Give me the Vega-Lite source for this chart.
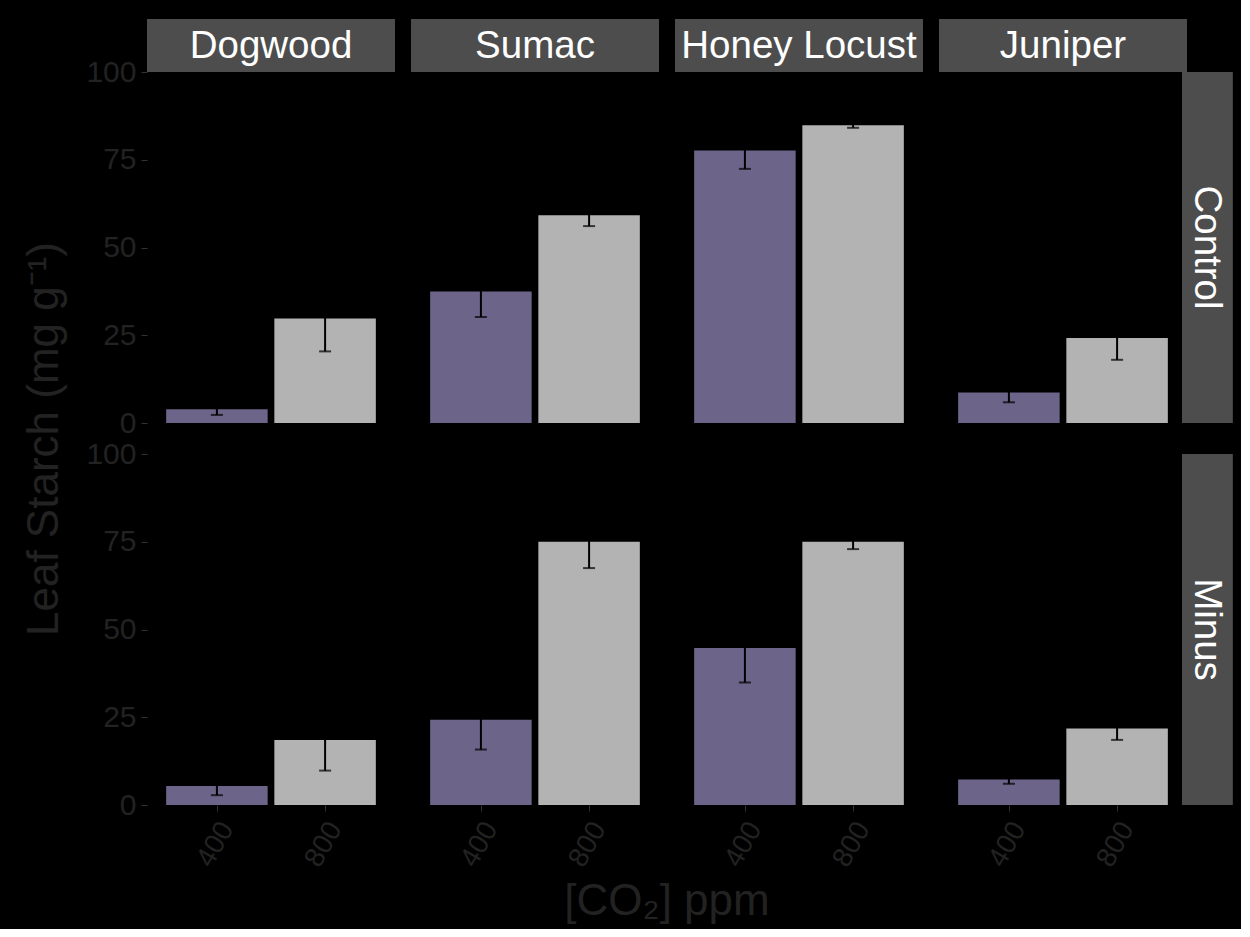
{
  "$schema": "https://vega.github.io/schema/vega-lite/v6.json",
  "background": "black",
  "padding": {"left": 22, "top": 18, "right": 8, "bottom": 5},
  "autosize": {"type": "pad"},
  "bounds": "flush",
  "data": {"values": [
    {"treatment": "Control", "species": "Dogwood", "co2": 400, "mean": 3.9, "lo": 2.3, "hi": 5.5},
    {"treatment": "Control", "species": "Dogwood", "co2": 800, "mean": 29.8, "lo": 20.4, "hi": 39.2},
    {"treatment": "Control", "species": "Sumac", "co2": 400, "mean": 37.5, "lo": 30.2, "hi": 44.8},
    {"treatment": "Control", "species": "Sumac", "co2": 800, "mean": 59.2, "lo": 56.1, "hi": 62.3},
    {"treatment": "Control", "species": "Honey Locust", "co2": 400, "mean": 77.6, "lo": 72.4, "hi": 82.8},
    {"treatment": "Control", "species": "Honey Locust", "co2": 800, "mean": 84.8, "lo": 84.1, "hi": 85.5},
    {"treatment": "Control", "species": "Juniper", "co2": 400, "mean": 8.7, "lo": 5.9, "hi": 11.5},
    {"treatment": "Control", "species": "Juniper", "co2": 800, "mean": 24.2, "lo": 18.0, "hi": 30.4},
    {"treatment": "Minus", "species": "Dogwood", "co2": 400, "mean": 5.4, "lo": 2.8, "hi": 8.0},
    {"treatment": "Minus", "species": "Dogwood", "co2": 800, "mean": 18.5, "lo": 9.8, "hi": 27.2},
    {"treatment": "Minus", "species": "Sumac", "co2": 400, "mean": 24.3, "lo": 15.8, "hi": 32.8},
    {"treatment": "Minus", "species": "Sumac", "co2": 800, "mean": 75.0, "lo": 67.5, "hi": 82.5},
    {"treatment": "Minus", "species": "Honey Locust", "co2": 400, "mean": 44.7, "lo": 34.9, "hi": 54.5},
    {"treatment": "Minus", "species": "Honey Locust", "co2": 800, "mean": 75.0, "lo": 72.9, "hi": 77.1},
    {"treatment": "Minus", "species": "Juniper", "co2": 400, "mean": 7.3, "lo": 6.05, "hi": 8.55},
    {"treatment": "Minus", "species": "Juniper", "co2": 800, "mean": 21.8, "lo": 18.55, "hi": 25.05}
  ]},
  "facet": {
    "row": {
      "field": "treatment", "type": "nominal", "sort": ["Control", "Minus"],
      "title": "Leaf Starch (mg g⁻¹)",
      "header": {"labels": false, "titleOrient": "left", "titleFontSize": 44, "titleColor": "#222222", "titleFont": "Liberation Sans", "titleFontWeight": "normal", "titlePadding": 8}
    },
    "column": {
      "field": "species", "type": "nominal", "sort": ["Dogwood", "Sumac", "Honey Locust", "Juniper"],
      "title": "[CO₂] ppm",
      "header": {"labels": false, "titleOrient": "bottom", "titleFontSize": 44, "titleColor": "#222222", "titleFont": "Liberation Sans", "titleFontWeight": "normal", "titlePadding": -2}
    }
  },
  "spacing": {"row": 31, "column": 16},
  "spec": {
    "width": 248,
    "height": 351,
    "layer": [
      {
        "transform": [{"filter": "datum.species == 'Dogwood' && datum.co2 == 400"}],
        "mark": {"type": "rect", "opacity": 0, "clip": false},
        "encoding": {
          "x": {"datum": -28, "type": "quantitative"},
          "x2": {"datum": 160}
        }
      },
      {
        "transform": [{"filter": "datum.treatment == 'Minus' && datum.co2 == 400"}],
        "mark": {"type": "rect", "opacity": 0, "clip": false},
        "encoding": {
          "y": {"datum": -15.1, "type": "quantitative"},
          "y2": {"datum": 0}
        }
      },
      {
        "transform": [{"filter": "datum.treatment == 'Control' && datum.co2 == 400"}],
        "mark": {"type": "rect", "color": "#4d4d4d", "clip": false},
        "encoding": {
          "y": {"datum": 100, "type": "quantitative"},
          "y2": {"datum": 115.1}
        }
      },
      {
        "transform": [{"filter": "datum.treatment == 'Control' && datum.co2 == 400"}],
        "mark": {"type": "text", "color": "white", "fontSize": 38.5, "font": "Liberation Sans", "baseline": "middle", "align": "center", "clip": false},
        "encoding": {
          "y": {"datum": 107.4, "type": "quantitative"},
          "text": {"field": "species"}
        }
      },
      {
        "transform": [{"filter": "datum.species == 'Juniper' && datum.co2 == 400"}],
        "mark": {"type": "rect", "color": "#4d4d4d", "clip": false},
        "encoding": {
          "x": {"datum": 1040, "type": "quantitative"},
          "x2": {"datum": 1228}
        }
      },
      {
        "transform": [{"filter": "datum.species == 'Juniper' && datum.co2 == 400"}],
        "mark": {"type": "text", "color": "white", "fontSize": 38.5, "font": "Liberation Sans", "baseline": "middle", "align": "center", "angle": 90, "clip": false},
        "encoding": {
          "x": {"datum": 1134, "type": "quantitative"},
          "text": {"field": "treatment"}
        }
      },
      {
        "mark": {"type": "bar", "width": 101.5},
        "encoding": {
          "x": {
            "field": "co2", "type": "quantitative",
            "scale": {"domain": [160, 1040], "nice": false, "zero": false},
            "axis": {
              "values": [400, 800], "format": "d", "title": null,
              "labelAngle": -60, "labelAlign": "right", "labelBaseline": "middle",
              "labelPadding": 13, "labelOffset": 10, "labelFontSize": 28
            }
          },
          "y": {
            "field": "mean", "type": "quantitative",
            "scale": {"domain": [0, 100], "nice": false},
            "axis": {"values": [0, 25, 50, 75, 100], "title": null, "labelFontSize": 30, "labelPadding": 5}
          },
          "color": {
            "field": "co2", "type": "nominal",
            "scale": {"domain": [400, 800], "range": ["#6c6489", "#b3b3b3"]},
            "legend": null
          }
        }
      },
      {
        "mark": {"type": "rule", "color": "black", "strokeWidth": 2},
        "encoding": {
          "x": {"field": "co2", "type": "quantitative"},
          "y": {"field": "lo", "type": "quantitative"},
          "y2": {"field": "hi"}
        }
      },
      {
        "mark": {"type": "tick", "color": "black", "orient": "horizontal", "size": 12, "thickness": 2},
        "encoding": {
          "x": {"field": "co2", "type": "quantitative"},
          "y": {"field": "lo", "type": "quantitative"}
        }
      },
      {
        "mark": {"type": "tick", "color": "black", "orient": "horizontal", "size": 12, "thickness": 2},
        "encoding": {
          "x": {"field": "co2", "type": "quantitative"},
          "y": {"field": "hi", "type": "quantitative"}
        }
      }
    ]
  },
  "config": {
    "view": {"stroke": null},
    "font": "Liberation Sans",
    "axis": {
      "grid": false,
      "domain": false,
      "tickColor": "#333333",
      "tickSize": 6,
      "labelColor": "#222222",
      "labelFont": "Liberation Sans"
    }
  }
}
